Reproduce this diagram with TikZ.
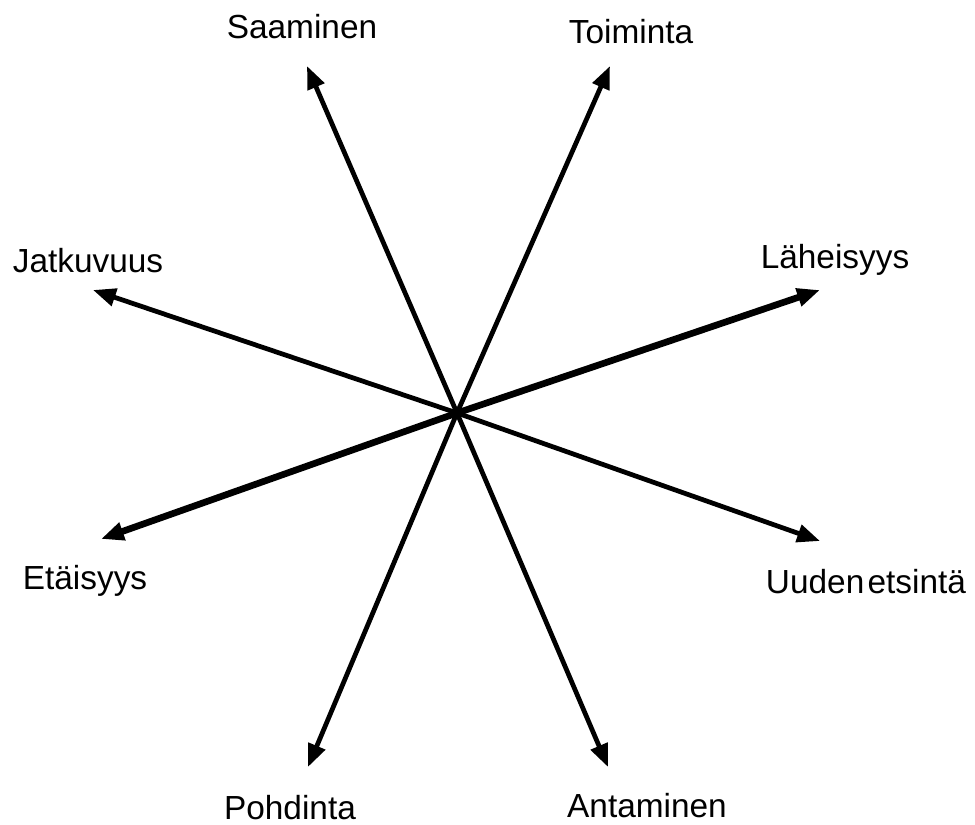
\documentclass[tikz,border=0pt]{standalone}
\usepackage{fontspec}
\setmainfont{Liberation Sans}
\usepackage{tikz}
\usetikzlibrary{arrows.meta}

\begin{document}
\begin{tikzpicture}[
  x=0.02cm, y=-0.02cm,
  font=\fontsize{19}{22}\selectfont,
  >={Triangle[length=13pt,width=10pt]},
  lbl/.style={inner sep=0pt, anchor=center},
  arr/.style={->, line width=2.7pt},
  thickarr/.style={->, line width=3.8pt}
]
\useasboundingbox (0,0) rectangle (975,825);
\coordinate (c) at (457,413);
\coordinate (saa) at (307,66);
\coordinate (toi) at (610,66);
\coordinate (jat) at (93,290);
\coordinate (lah) at (820,290);
\coordinate (eta) at (101,539);
\coordinate (uud) at (820,541);
\coordinate (poh) at (308,767);
\coordinate (ant) at (608,767);
\node[lbl] (tSaa) at (302,27) {Saaminen};
\node[lbl] (tToi) at (631,32) {Toiminta};
\node[lbl] (tJat) at (88,261) {Jatkuvuus};
\node[lbl] (tLah) at (835,260) {Läheisyys};
\node[lbl] (tEta) at (85,581) {Etäisyys};
\node[lbl] (tUud) at (866,582) {Uuden\hspace{0.1em}etsintä};
\node[lbl] (tPoh) at (290,808) {Pohdinta};
\node[lbl] (tAnt) at (647,806) {Antaminen};
\draw[arr] (c) -- (saa);
\draw[arr] (c) -- (toi);
\draw[arr] (c) -- (jat);
\draw[arr] (c) -- (uud);
\draw[arr] (c) -- (poh);
\draw[arr] (c) -- (ant);
\draw[thickarr] (c) -- (lah);
\draw[thickarr] (c) -- (eta);
\end{tikzpicture}
\end{document}
